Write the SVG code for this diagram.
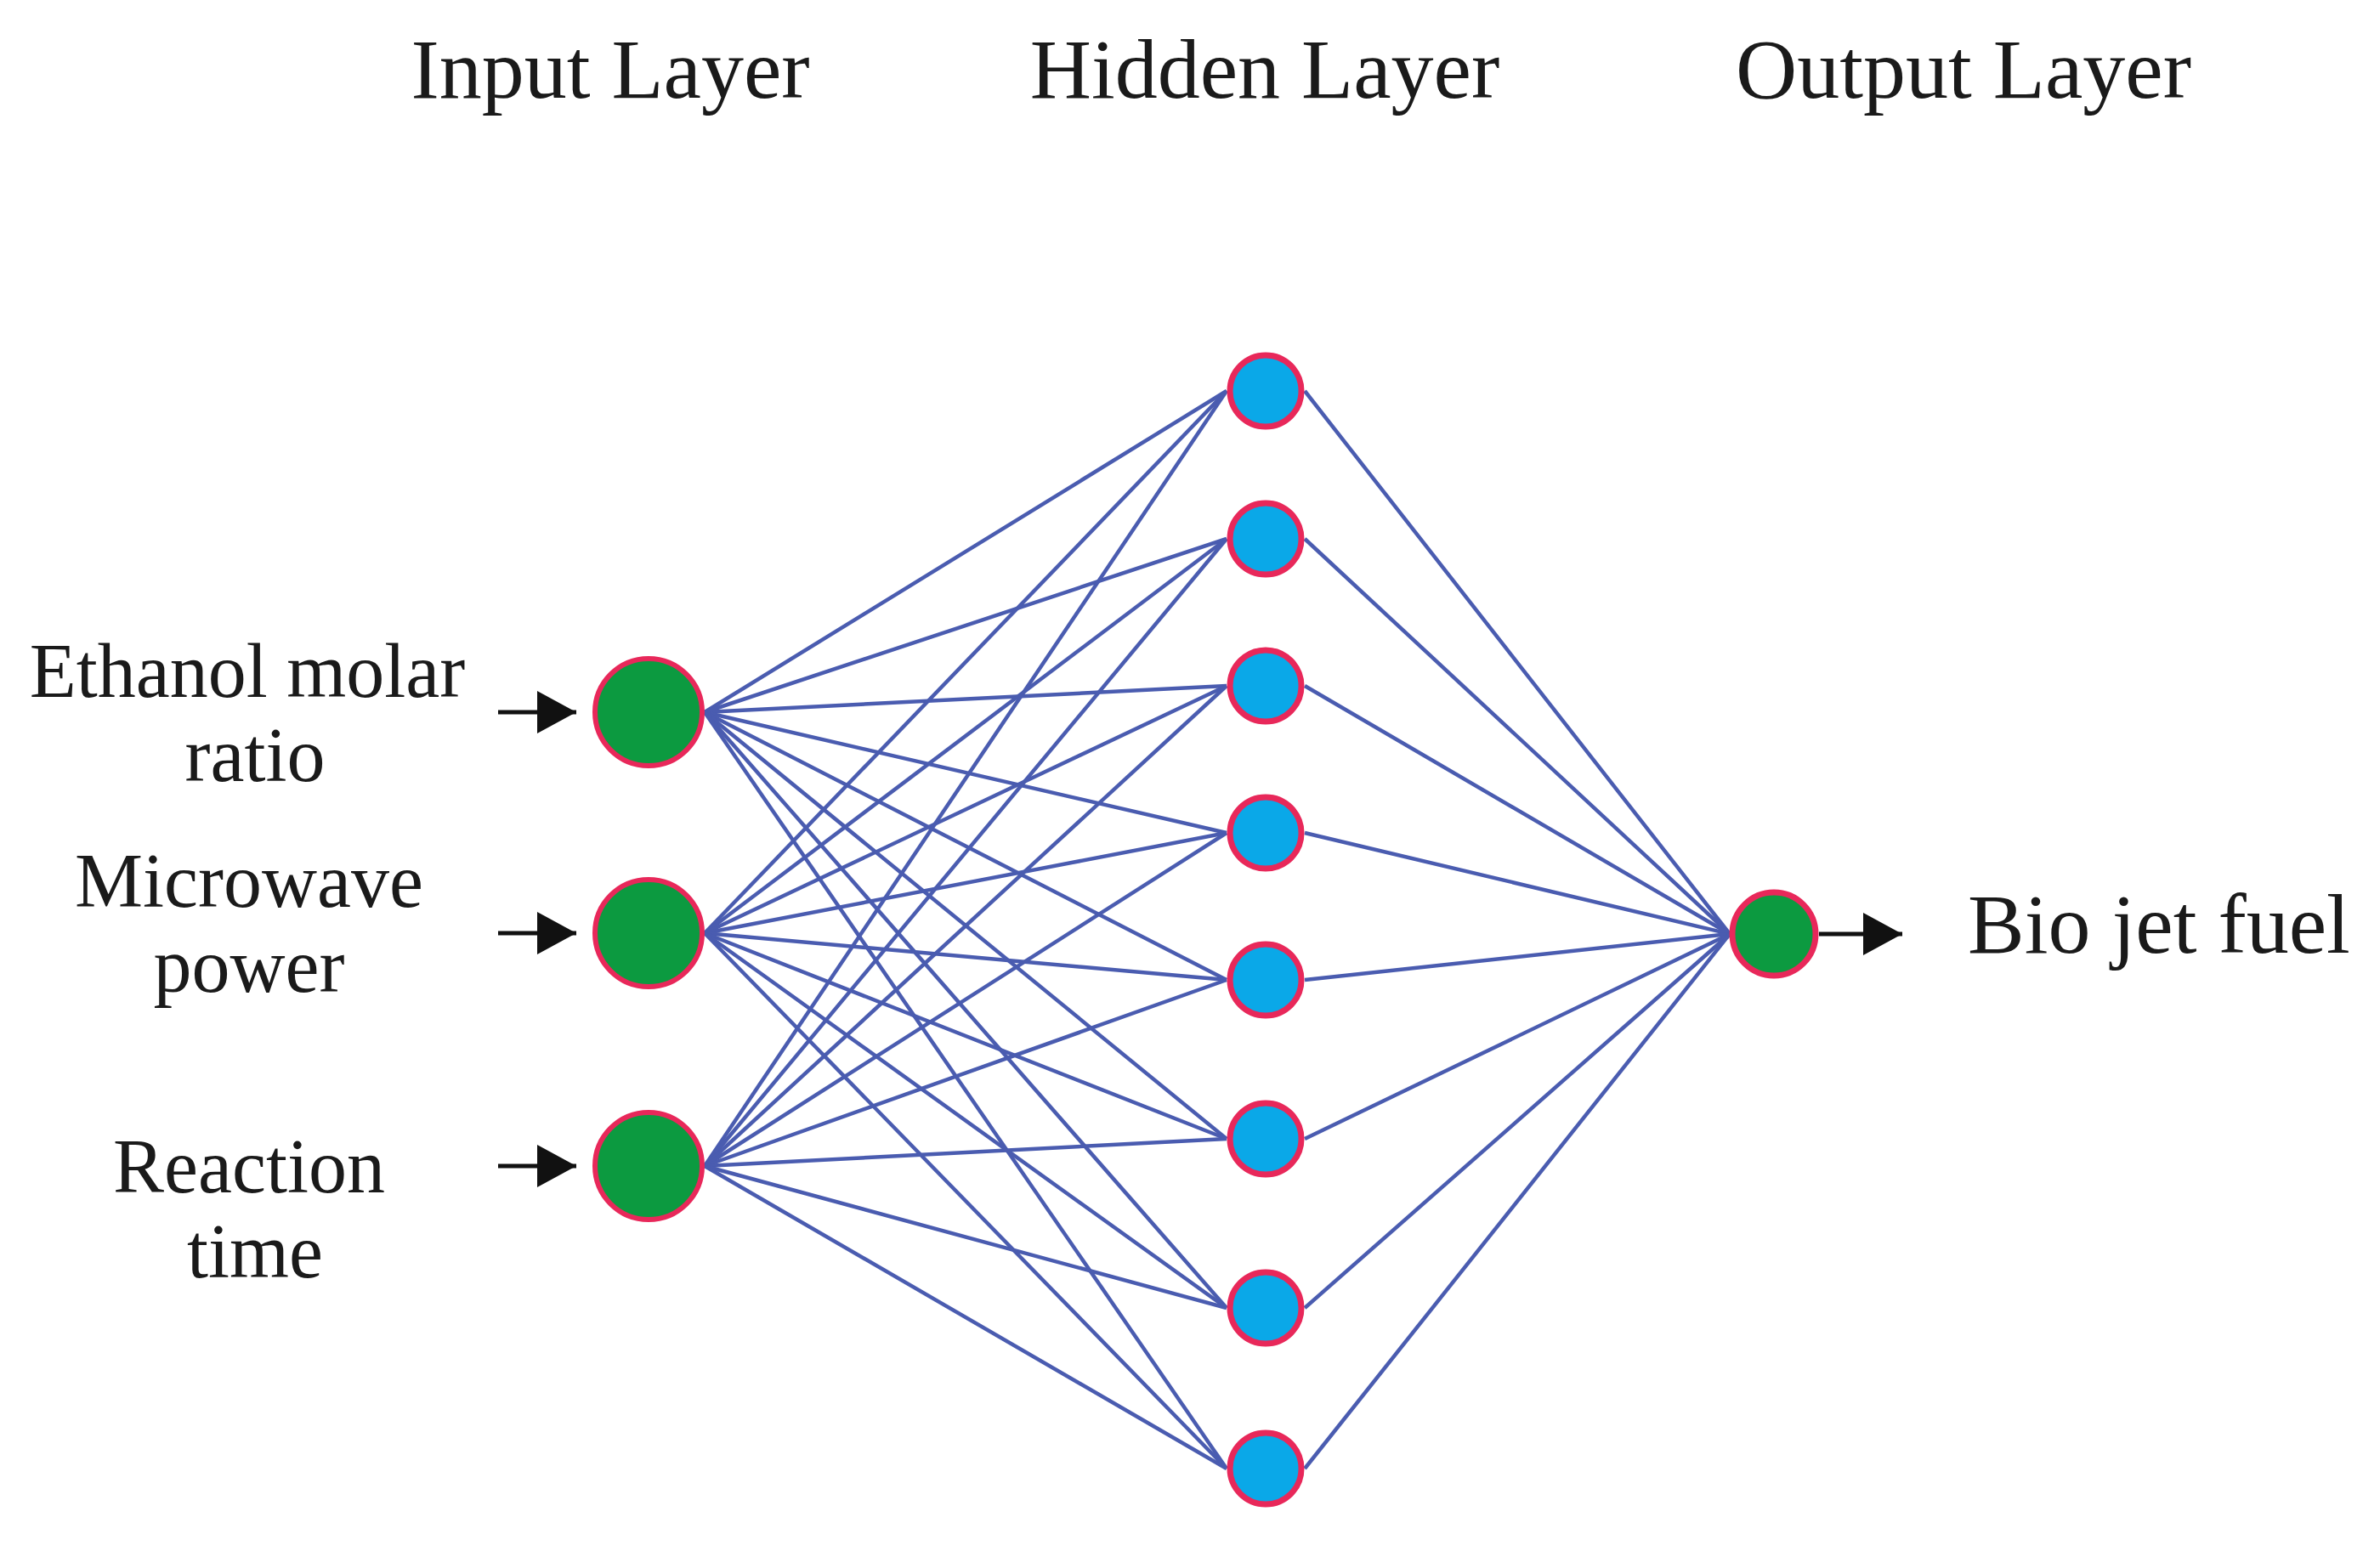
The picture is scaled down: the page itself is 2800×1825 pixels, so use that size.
<svg xmlns="http://www.w3.org/2000/svg" width="2800" height="1825" viewBox="0 0 2800 1825">
<style>
text{font-family:"Liberation Serif","Times New Roman",serif;fill:#1a1a1a}
.t{font-size:100px;text-anchor:middle}
.l{font-size:90px;text-anchor:middle}
.c line{stroke:#4a5cb0;stroke-width:4.5}
.in{fill:#0c9a40;stroke:#e8285a;stroke-width:6}
.hd{fill:#0aa8e8;stroke:#e8285a;stroke-width:7}
</style>
<defs>
<marker id="a2" viewBox="0 0 10 10" refX="10" refY="5" markerWidth="46" markerHeight="50" markerUnits="userSpaceOnUse" orient="auto" preserveAspectRatio="none"><path d="M0,0L10,5L0,10z" fill="#111"/></marker></defs>
<text class="t" x="718" y="115">Input Layer</text>
<text class="t" x="1488" y="115">Hidden Layer</text>
<text class="t" x="2310" y="115">Output Layer</text>
<g class="c">
<line x1="829" y1="838" x2="1443" y2="460"/><line x1="829" y1="838" x2="1443" y2="634"/><line x1="829" y1="838" x2="1443" y2="807"/><line x1="829" y1="838" x2="1443" y2="980"/><line x1="829" y1="838" x2="1443" y2="1153"/><line x1="829" y1="838" x2="1443" y2="1340"/><line x1="829" y1="838" x2="1443" y2="1539"/><line x1="829" y1="838" x2="1443" y2="1728"/>
<line x1="829" y1="1098" x2="1443" y2="460"/><line x1="829" y1="1098" x2="1443" y2="634"/><line x1="829" y1="1098" x2="1443" y2="807"/><line x1="829" y1="1098" x2="1443" y2="980"/><line x1="829" y1="1098" x2="1443" y2="1153"/><line x1="829" y1="1098" x2="1443" y2="1340"/><line x1="829" y1="1098" x2="1443" y2="1539"/><line x1="829" y1="1098" x2="1443" y2="1728"/>
<line x1="829" y1="1372" x2="1443" y2="460"/><line x1="829" y1="1372" x2="1443" y2="634"/><line x1="829" y1="1372" x2="1443" y2="807"/><line x1="829" y1="1372" x2="1443" y2="980"/><line x1="829" y1="1372" x2="1443" y2="1153"/><line x1="829" y1="1372" x2="1443" y2="1340"/><line x1="829" y1="1372" x2="1443" y2="1539"/><line x1="829" y1="1372" x2="1443" y2="1728"/>
<line x1="1535" y1="460" x2="2035" y2="1099"/><line x1="1535" y1="634" x2="2035" y2="1099"/><line x1="1535" y1="807" x2="2035" y2="1099"/><line x1="1535" y1="980" x2="2035" y2="1099"/><line x1="1535" y1="1153" x2="2035" y2="1099"/><line x1="1535" y1="1340" x2="2035" y2="1099"/><line x1="1535" y1="1539" x2="2035" y2="1099"/><line x1="1535" y1="1728" x2="2035" y2="1099"/>
<line x1="586" y1="838" x2="678" y2="838" style="stroke:#111;stroke-width:5" marker-end="url(#a2)"/>
<line x1="586" y1="1098" x2="678" y2="1098" style="stroke:#111;stroke-width:5" marker-end="url(#a2)"/>
<line x1="586" y1="1372" x2="678" y2="1372" style="stroke:#111;stroke-width:5" marker-end="url(#a2)"/>
<line x1="2140" y1="1099" x2="2238" y2="1099" style="stroke:#111;stroke-width:5" marker-end="url(#a2)"/>
</g>
<g id="in1"><circle class="in" cx="763" cy="838" r="63"/><text class="l" x="291" y="820">Ethanol molar</text><text class="l" x="300" y="919">ratio</text></g>
<g id="in2"><circle class="in" cx="763" cy="1098" r="63"/><text class="l" x="293" y="1067">Microwave</text><text class="l" x="293" y="1167">power</text></g>
<g id="in3"><circle class="in" cx="763" cy="1372" r="63"/><text class="l" x="293" y="1403">Reaction</text><text class="l" x="300" y="1503">time</text></g>
<g id="h1"><circle class="hd" cx="1489" cy="460" r="42"/></g>
<g id="h2"><circle class="hd" cx="1489" cy="634" r="42"/></g>
<g id="h3"><circle class="hd" cx="1489" cy="807" r="42"/></g>
<g id="h4"><circle class="hd" cx="1489" cy="980" r="42"/></g>
<g id="h5"><circle class="hd" cx="1489" cy="1153" r="42"/></g>
<g id="h6"><circle class="hd" cx="1489" cy="1340" r="42"/></g>
<g id="h7"><circle class="hd" cx="1489" cy="1539" r="42"/></g>
<g id="h8"><circle class="hd" cx="1489" cy="1728" r="42"/></g>
<g id="out"><circle class="in" cx="2087" cy="1099" r="49" style="stroke-width:7"/><text x="2315" y="1121" style="font-size:100px">Bio jet fuel</text></g>
</svg>
